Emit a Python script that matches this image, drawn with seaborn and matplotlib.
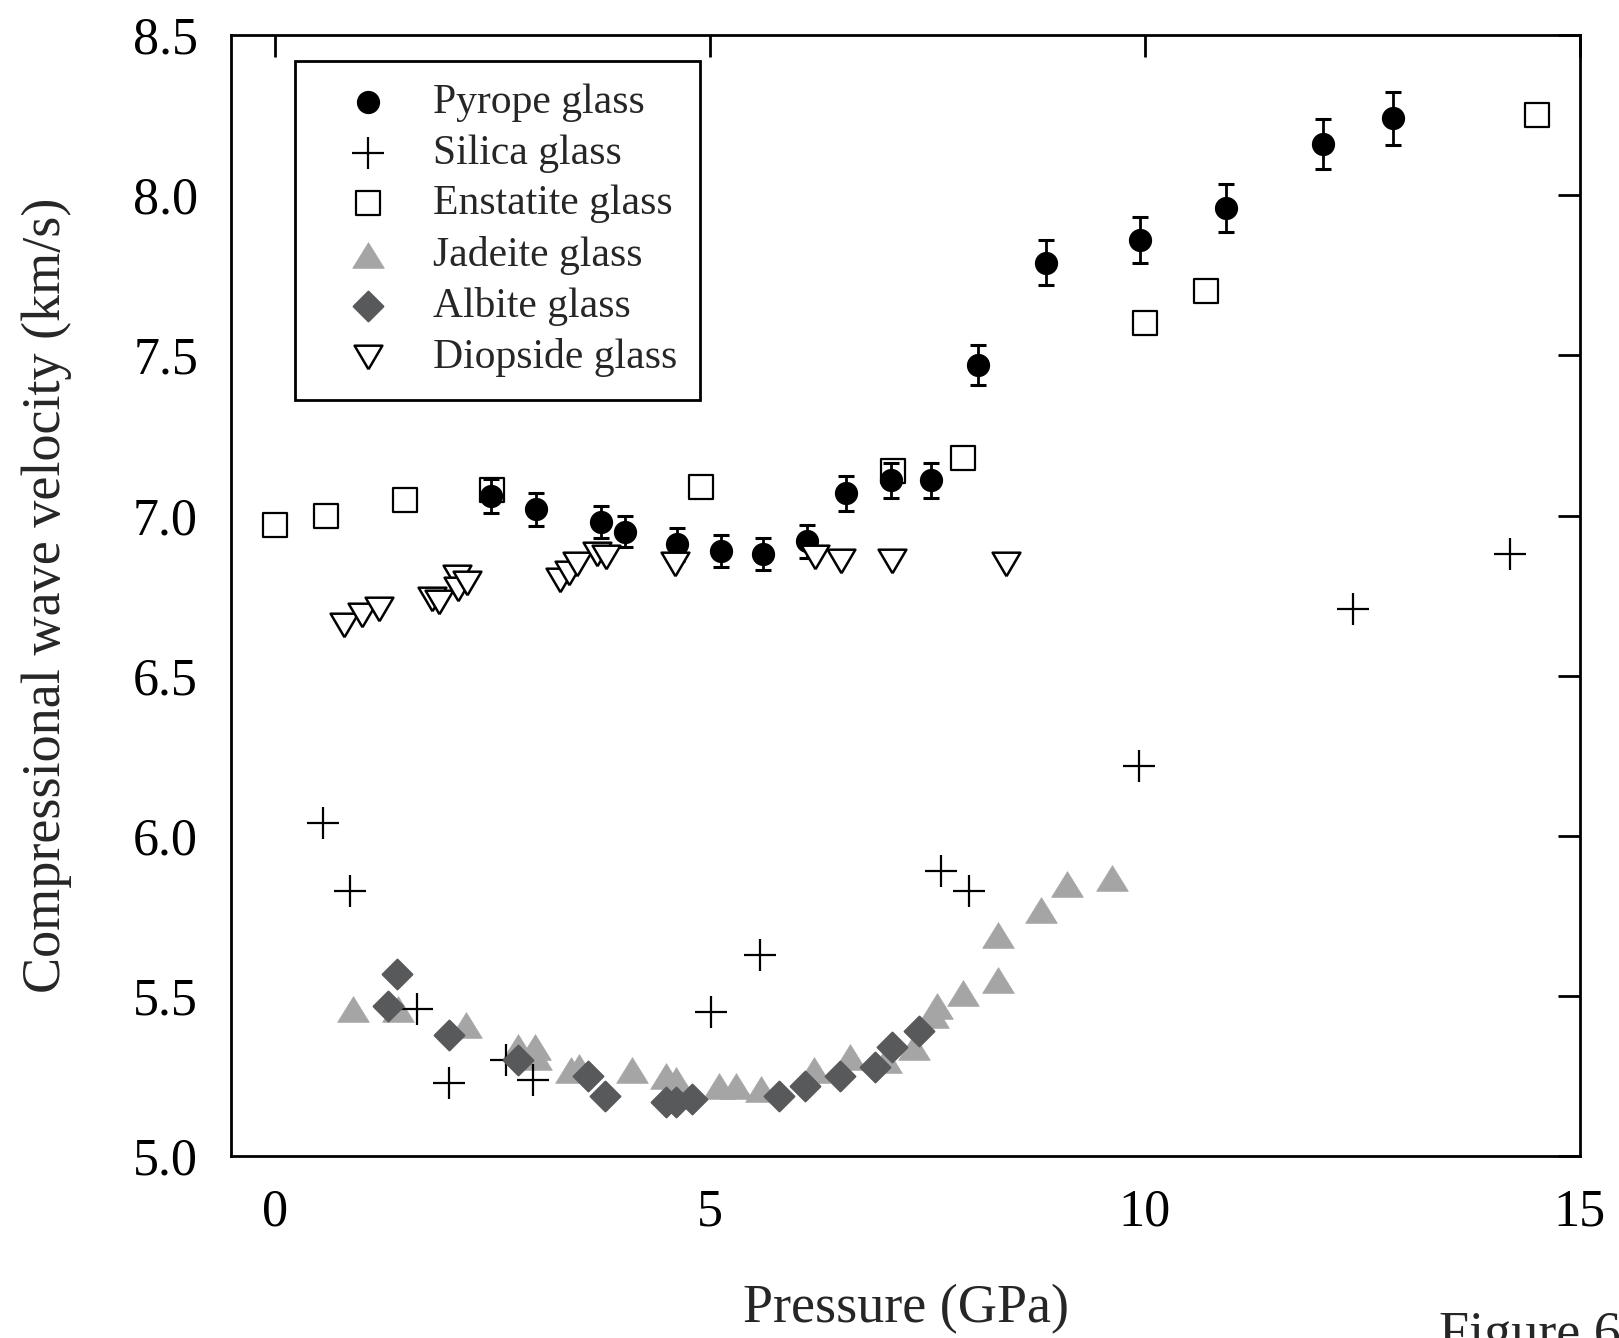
import matplotlib
matplotlib.use("Agg")
import matplotlib.pyplot as plt
import seaborn as sns

# Pyrope glass (with error bars)
pyrope_p = [2.48, 3.00, 3.75, 4.03, 4.62, 5.13, 5.61, 6.12, 6.57, 7.08, 7.54,
            8.08, 8.86, 9.94, 10.93, 12.05, 12.85]
pyrope_v = [7.06, 7.02, 6.98, 6.95, 6.91, 6.89, 6.88, 6.92, 7.07, 7.11, 7.11,
            7.47, 7.79, 7.86, 7.96, 8.16, 8.24]
pyrope_err = [0.053, 0.051, 0.049, 0.049, 0.05, 0.05, 0.051, 0.051, 0.054, 0.055,
              0.055, 0.062, 0.069, 0.071, 0.074, 0.078, 0.082]

# Silica glass
silica_p = [0.55, 0.86, 1.63, 2.00, 2.66, 2.97, 5.01, 5.58, 7.66, 7.98, 9.93, 12.40, 14.20]
silica_v = [6.04, 5.83, 5.46, 5.23, 5.30, 5.24, 5.45, 5.63, 5.89, 5.83, 6.22, 6.71, 6.88]

# Enstatite glass
enstatite_p = [0.0, 0.59, 1.50, 2.50, 4.90, 7.11, 7.91, 10.00, 10.70, 14.51]
enstatite_v = [6.97, 7.00, 7.05, 7.08, 7.09, 7.14, 7.18, 7.60, 7.70, 8.25]

# Jadeite glass
jadeite_p = [0.90, 1.41, 2.20, 2.80, 2.99, 3.00, 3.40, 3.50, 4.11, 4.50, 4.61, 5.11,
             5.30, 5.59, 6.20, 6.61, 7.03, 7.35, 7.57, 7.61, 7.91, 8.31, 8.31,
             8.81, 9.11, 9.62]
jadeite_v = [5.46, 5.46, 5.41, 5.34, 5.34, 5.31, 5.27, 5.28, 5.27, 5.25, 5.24, 5.22,
             5.22, 5.21, 5.27, 5.31, 5.30, 5.34, 5.44, 5.47, 5.51, 5.55, 5.69,
             5.77, 5.85, 5.87]

# Albite glass
albite_p = [1.30, 1.40, 2.00, 2.80, 3.60, 3.80, 4.50, 4.61, 4.80, 5.80, 6.10,
            6.50, 6.90, 7.10, 7.40]
albite_v = [5.47, 5.57, 5.38, 5.30, 5.25, 5.19, 5.17, 5.17, 5.18, 5.19, 5.22,
            5.25, 5.28, 5.34, 5.39]

# Diopside glass
diopside_p = [0.80, 1.00, 1.20, 1.81, 1.89, 2.09, 2.11, 2.21, 3.28, 3.38, 3.47,
              3.70, 3.81, 4.60, 6.21, 6.51, 7.09, 8.40]
diopside_v = [6.66, 6.69, 6.71, 6.74, 6.73, 6.81, 6.77, 6.79, 6.80, 6.82, 6.85,
              6.88, 6.87, 6.85, 6.87, 6.86, 6.86, 6.85]

x_ticks = [0, 5, 10, 15]
y_ticks = [5.0, 5.5, 6.0, 6.5, 7.0, 7.5, 8.0, 8.5]

sns.set_style("white")
plt.rcParams["font.family"] = ["Liberation Serif", "DejaVu Serif"]

# wider-than-tall triangles like the original (closed outlines)
tri_up = [(0, 0.81), (-1, -0.81), (1, -0.81), (0, 0.81)]
tri_down = [(0, -0.85), (-1, 0.85), (1, 0.85), (0, -0.85)]

fig = plt.figure(figsize=(16.19, 13.38), dpi=100)
ax = fig.add_axes([0.1429, 0.1357, 0.8328, 0.8381])

ax.errorbar(pyrope_p, pyrope_v, yerr=pyrope_err, fmt="none", ecolor="black",
            elinewidth=2, capsize=5.5, capthick=2.2, zorder=3)
sns.scatterplot(x=pyrope_p, y=pyrope_v, ax=ax, marker="o", s=280, color="black",
                edgecolor="black", linewidth=0, label="Pyrope glass", zorder=3)
sns.scatterplot(x=silica_p, y=silica_v, ax=ax, marker="+", s=520, color="black",
                linewidth=1.6, label="Silica glass", zorder=4)
sns.scatterplot(x=enstatite_p, y=enstatite_v, ax=ax, marker="s", s=300, color="white",
                edgecolor="black", linewidth=1.6, label="Enstatite glass", zorder=2)
sns.scatterplot(x=jadeite_p, y=jadeite_v, ax=ax, marker=tri_up, s=520, color="#A5A5A5",
                edgecolor="#A5A5A5", linewidth=0.5, label="Jadeite glass", zorder=3.5)
sns.scatterplot(x=albite_p, y=albite_v, ax=ax, marker="D", s=230, color="#58595B",
                edgecolor="#58595B", linewidth=1.5, label="Albite glass", zorder=5)
sns.scatterplot(x=diopside_p, y=diopside_v, ax=ax, marker=tri_down, s=400, color="white",
                edgecolor="black", linewidth=1.8, label="Diopside glass", zorder=6)

ax.set_xlim(-0.5, 15)
ax.set_ylim(5.0, 8.5)
ax.set_xticks(x_ticks)
ax.set_xticklabels([str(t) for t in x_ticks])
ax.set_yticks(y_ticks)
ax.set_yticklabels([f"{t:.1f}" for t in y_ticks])

for side in ["left", "right", "top", "bottom"]:
    ax.spines[side].set_visible(True)
    ax.spines[side].set_color("black")
    ax.spines[side].set_linewidth(2)

ax.tick_params(axis="both", which="major", direction="in", length=16, width=2,
               labelsize=37.5, colors="black", top=True, right=True)
ax.tick_params(axis="x", pad=23)
ax.tick_params(axis="y", pad=24)

ax.set_xlabel("Pressure (GPa)", fontsize=39, labelpad=34)
ax.set_ylabel("Compressional wave velocity (km/s)", fontsize=39, labelpad=44)

leg = ax.legend(loc="upper left", bbox_to_anchor=(0.0475, 0.977), borderaxespad=0,
                fontsize=30, frameon=True, fancybox=False, edgecolor="black",
                framealpha=1, borderpad=0.55, handlelength=2.4, handletextpad=0.35,
                labelspacing=0.29)
leg.get_frame().set_linewidth(2)
leg.set_zorder(10)

fig.text(0.889, 0.0205, "Figure 6", fontsize=39, va="top", ha="left")

fig.savefig("out.png", dpi=100)
